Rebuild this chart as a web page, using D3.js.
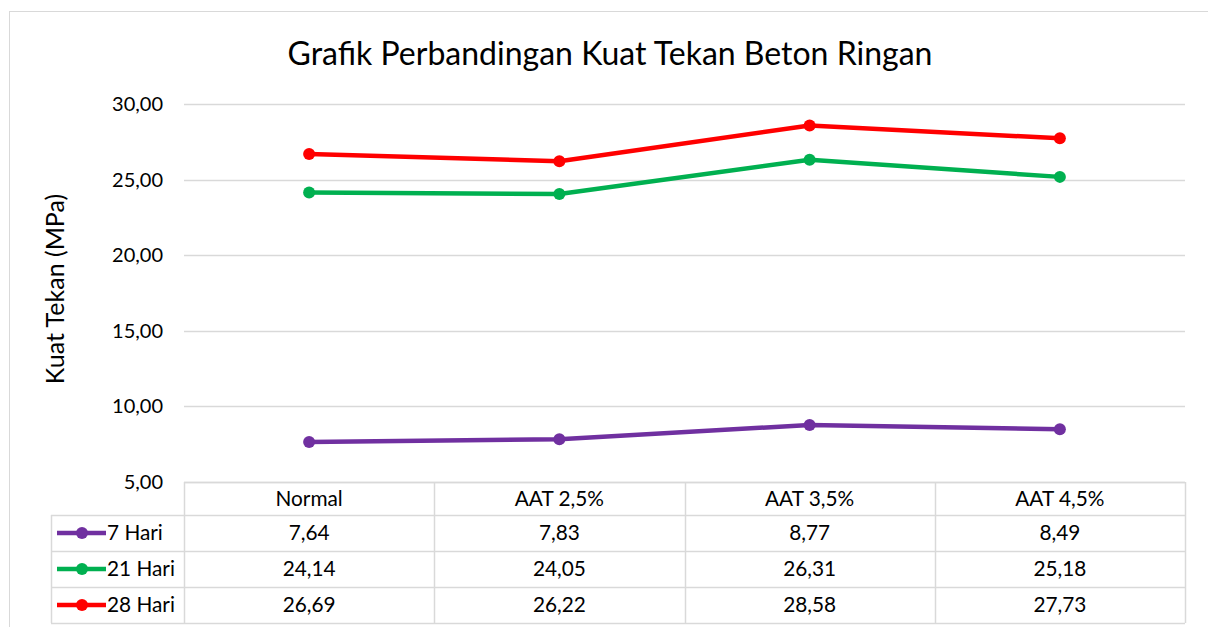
<!DOCTYPE html>
<html>
<head>
<meta charset="utf-8">
<script src="https://cdn.jsdelivr.net/npm/d3@7"></script>
<style>
  body { margin: 0; background: #fff; }
  svg { display: block; font-family: Lato, "Open Sans", sans-serif; }
</style>
</head>
<body>
<div id="chart"></div>
<script>
const categories = ['Normal', 'AAT 2,5%', 'AAT 3,5%', 'AAT 4,5%'];
const seriesNames = ['7 Hari', '21 Hari', '28 Hari'];
const hari7 = [7.64, 7.83, 8.77, 8.49];
const hari21 = [24.14, 24.05, 26.31, 25.18];
const hari28 = [26.69, 26.22, 28.58, 27.73];
const yTicks = [5, 10, 15, 20, 25, 30];
const seriesColors = ['#7030a0', '#00b050', '#ff0000'];

const series = [hari7, hari21, hari28].map((values, i) => ({
    name: seriesNames[i], values, color: seriesColors[i]
}));

const outerWidth = 1208;
const outerHeight = 627;
const plot = { left: 184, right: 1185, top: 104, bottom: 482 };
const rowH = 36;
const headerH = 33;
const legendLeft = 51;
const gridColor = '#d9d9d9';
const fontFamily = 'Lato, "Open Sans", sans-serif';
const textSize = 20;
const tableSize = 20.8;
const fmt = v => v.toFixed(2).replace('.', ',');

const svg = d3.select('#chart').append('svg')
    .attr('width', outerWidth)
    .attr('height', outerHeight);

// chart border
svg.append('rect')
    .attr('x', 9.5).attr('y', 11.5)
    .attr('width', outerWidth + 10).attr('height', outerHeight + 10)
    .attr('fill', 'none').attr('stroke', gridColor);

svg.append('text')
    .attr('x', 610).attr('y', 65)
    .attr('text-anchor', 'middle')
    .attr('font-size', 32)
    .attr('fill', '#000')
    .text('Grafik Perbandingan Kuat Tekan Beton Ringan');

const x = d3.scaleBand().domain(categories).range([plot.left, plot.right]);
const y = d3.scaleLinear().domain([5, 30]).range([plot.bottom, plot.top]);

// gridlines
svg.append('g')
    .selectAll('line')
    .data(yTicks)
    .join('line')
    .attr('x1', plot.left).attr('x2', plot.right)
    .attr('y1', d => Math.round(y(d)) + 0.5).attr('y2', d => Math.round(y(d)) + 0.5)
    .attr('stroke', gridColor).attr('stroke-width', 1.5);

// y axis labels
const yAxis = d3.axisLeft(y).tickValues(yTicks).tickFormat(fmt).tickSize(0).tickPadding(21);
const gy = svg.append('g')
    .attr('transform', `translate(${plot.left},0)`)
    .call(yAxis);
gy.select('.domain').remove();
gy.selectAll('text').attr('font-size', textSize).attr('fill', '#000')
    .attr('font-family', fontFamily);

svg.append('text')
    .attr('transform', `translate(64, ${(plot.top + plot.bottom) / 2 - 4}) rotate(-90)`)
    .attr('text-anchor', 'middle')
    .attr('font-size', 25)
    .text('Kuat Tekan (MPa)');

// lines
const line = d3.line()
    .x((d, i) => x(categories[i]) + x.bandwidth() / 2)
    .y(d => y(d));

const gs = svg.append('g').selectAll('g')
    .data(series)
    .join('g');

gs.append('path')
    .attr('d', d => line(d.values))
    .attr('fill', 'none')
    .attr('stroke', d => d.color)
    .attr('stroke-width', 4.5)
    .attr('stroke-linejoin', 'round');

gs.selectAll('circle')
    .data(d => d.values.map((v, i) => ({ v, i, color: d.color })))
    .join('circle')
    .attr('cx', d => x(categories[d.i]) + x.bandwidth() / 2)
    .attr('cy', d => y(d.v))
    .attr('r', 6)
    .attr('fill', d => d.color);

// data table
const table = svg.append('g');
const tableTop = plot.bottom;
const rowsTop = tableTop + headerH;
const tableBottom = rowsTop + rowH * series.length;

// horizontal lines
table.append('line')
    .attr('x1', plot.left).attr('x2', plot.right)
    .attr('y1', tableTop + 0.5).attr('y2', tableTop + 0.5)
    .attr('stroke', gridColor).attr('stroke-width', 1.5);
table.selectAll('line.row')
    .data(d3.range(series.length + 1))
    .join('line')
    .attr('class', 'row')
    .attr('x1', legendLeft).attr('x2', plot.right)
    .attr('y1', i => rowsTop + i * rowH + 0.5).attr('y2', i => rowsTop + i * rowH + 0.5)
    .attr('stroke', gridColor).attr('stroke-width', 1.5);

// vertical lines
const colEdges = categories.map(c => x(c)).concat([plot.right]);
table.selectAll('line.col')
    .data(colEdges)
    .join('line')
    .attr('class', 'col')
    .attr('x1', d => Math.round(d) + 0.5).attr('x2', d => Math.round(d) + 0.5)
    .attr('y1', tableTop).attr('y2', tableBottom)
    .attr('stroke', gridColor).attr('stroke-width', 1.5);
table.append('line')
    .attr('x1', legendLeft + 0.5).attr('x2', legendLeft + 0.5)
    .attr('y1', rowsTop).attr('y2', tableBottom)
    .attr('stroke', gridColor).attr('stroke-width', 1.5);

// header labels
table.selectAll('text.head')
    .data(categories)
    .join('text')
    .attr('class', 'head')
    .attr('x', d => x(d) + x.bandwidth() / 2)
    .attr('y', tableTop + headerH / 2 + 7)
    .attr('text-anchor', 'middle')
    .attr('font-size', tableSize)
    .text(d => d);

// rows
const rows = table.selectAll('g.r')
    .data(series)
    .join('g')
    .attr('class', 'r')
    .attr('transform', (d, i) => `translate(0, ${rowsTop + i * rowH})`);

rows.append('line')
    .attr('x1', 57).attr('x2', 106)
    .attr('y1', rowH / 2).attr('y2', rowH / 2)
    .attr('stroke', d => d.color).attr('stroke-width', 4.5);
rows.append('circle')
    .attr('cx', 82).attr('cy', rowH / 2).attr('r', 6)
    .attr('fill', d => d.color);
rows.append('text')
    .attr('x', 107).attr('y', rowH / 2 + 7)
    .attr('font-size', tableSize)
    .text(d => d.name);

rows.selectAll('text.v')
    .data(d => d.values)
    .join('text')
    .attr('class', 'v')
    .attr('x', (d, i) => x(categories[i]) + x.bandwidth() / 2)
    .attr('y', rowH / 2 + 7)
    .attr('text-anchor', 'middle')
    .attr('font-size', tableSize)
    .text(fmt);
</script>
</body>
</html>
